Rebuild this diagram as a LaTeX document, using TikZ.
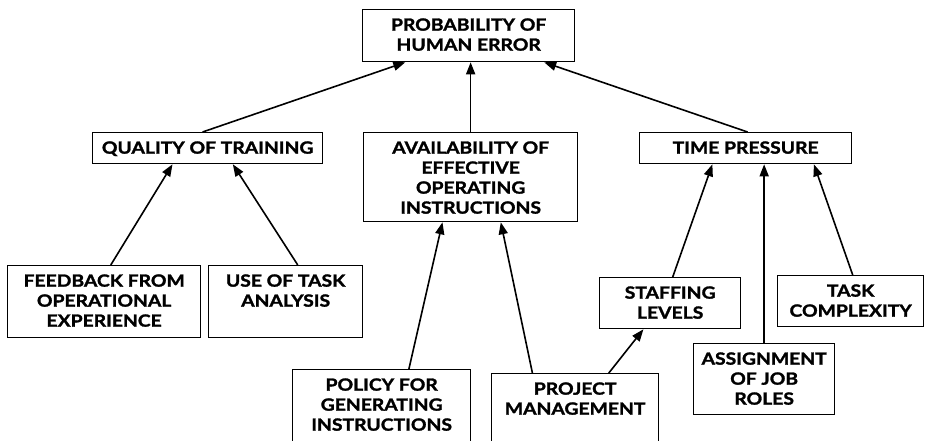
\documentclass[tikz,border=0pt]{standalone}
\usepackage{fontspec}
\newfontfamily\lblfont{Lato}[FakeStretch=1.15, BoldFeatures={FakeBold=1.6}]
\usetikzlibrary{arrows.meta,calc}

% fixed-size box contents: text centred, hung from the top edge
\newcommand{\boxtxt}[3]{\parbox[t][#2][t]{#1}{\centering\rule{0pt}{21pt}#3}}

\tikzset{
  box/.style={draw, line width=1.3pt, anchor=north west, inner sep=0pt,
              font=\lblfont\bfseries\fontsize{16.8}{20}\selectfont},
  link/.style={line width=1.6pt, -{Triangle[length=12pt,width=9pt]}},
}

\begin{document}
\begin{tikzpicture}[x=1pt,y=-1pt]
\useasboundingbox (0,0) rectangle (928,440);
\clip (0,0) rectangle (928,440);

% boxes
\node[box] (top)      at (362,9)   {\boxtxt{212pt}{52pt}{PROBABILITY OF\\HUMAN ERROR}};
\node[box] (quality)  at (92,132)  {\boxtxt{230pt}{31pt}{QUALITY OF TRAINING}};
\node[box] (avail)    at (363,132) {\boxtxt{214pt}{89pt}{AVAILABILITY OF\\EFFECTIVE\\OPERATING\\INSTRUCTIONS}};
\node[box] (time)     at (639,132) {\boxtxt{212pt}{31pt}{TIME PRESSURE}};
\node[box] (feedback) at (7,265)   {\boxtxt{193pt}{72pt}{FEEDBACK FROM\\OPERATIONAL\\EXPERIENCE}};
\node[box] (usetask)  at (208,265) {\boxtxt{154pt}{72pt}{USE OF TASK\\ANALYSIS}};
\node[box] (policy)   at (292,369) {\boxtxt{178pt}{100pt}{POLICY FOR\\GENERATING\\INSTRUCTIONS}};
\node[box] (project)  at (491,373) {\boxtxt{167pt}{100pt}{PROJECT\\MANAGEMENT}};
\node[box] (staffing) at (599,277) {\boxtxt{141pt}{51pt}{STAFFING\\LEVELS}};
\node[box] (assign)   at (693,343) {\boxtxt{141pt}{71pt}{ASSIGNMENT\\OF JOB\\ROLES}};
\node[box] (task)     at (777,275) {\boxtxt{146pt}{51pt}{TASK\\COMPLEXITY}};

% influences, drawn from cause to effect
\draw[link] ($(quality.north west)!0.478!(quality.north east)$) -- ($(top.south west)!0.203!(top.south east)$);
\draw[link] (avail.north) -- (avail.north |- top.south);
\draw[link] ($(time.north west)!0.509!(time.north east)$) -- ($(top.south west)!0.854!(top.south east)$);

\draw[link] ($(feedback.north west)!0.534!(feedback.north east)$) -- ($(quality.south west)!0.348!(quality.south east)$);
\draw[link] ($(usetask.north west)!0.578!(usetask.north east)$) -- ($(quality.south west)!0.609!(quality.south east)$);

\draw[link] ($(policy.north west)!0.652!(policy.north east)$) -- ($(avail.south west)!0.369!(avail.south east)$);
\draw[link] ($(project.north west)!0.246!(project.north east)$) -- ($(avail.south west)!0.64!(avail.south east)$);
\draw[link] ($(project.north west)!0.70!(project.north east)$) -- ($(staffing.south west)!0.312!(staffing.south east)$);

\draw[link] ($(staffing.north west)!0.518!(staffing.north east)$) -- ($(time.south west)!0.344!(time.south east)$);
\draw[link] (assign.north) -- (assign.north |- time.south);
\draw[link] ($(task.north west)!0.514!(task.north east)$) -- ($(time.south west)!0.82!(time.south east)$);
\end{tikzpicture}
\end{document}
